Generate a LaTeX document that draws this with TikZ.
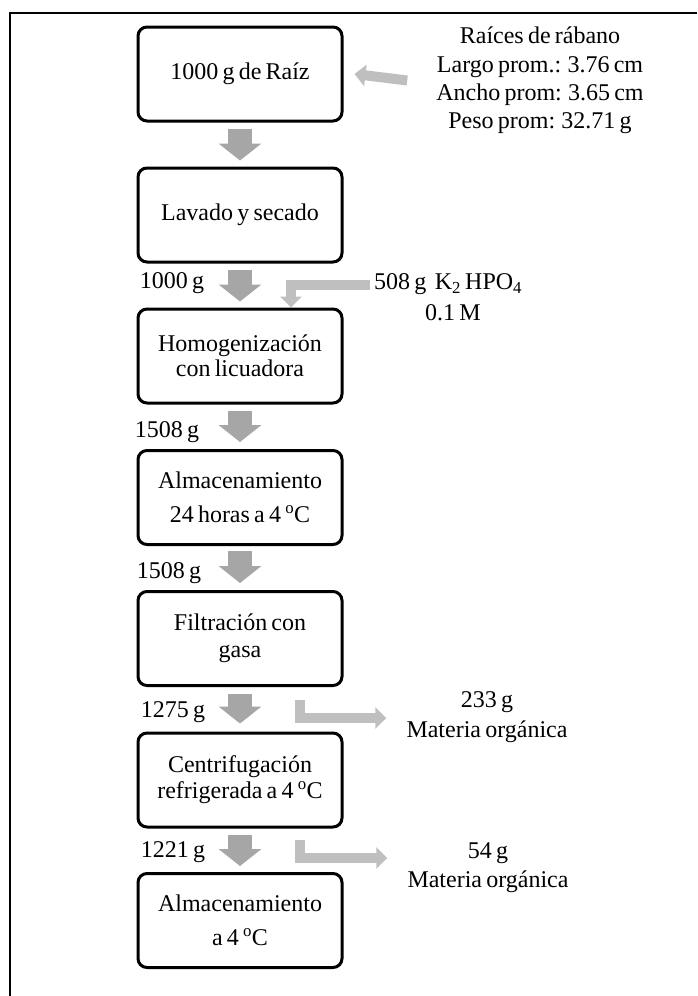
\documentclass[tikz,border=0pt]{standalone}
\usepackage{fontspec}
\setmainfont{Liberation Serif}[WordSpace=0.7]
\usetikzlibrary{arrows.meta,calc}
\definecolor{flowgray}{HTML}{A6A6A6}
\definecolor{sidegray}{HTML}{BFBFBF}
\tikzset{
  stage/.style={draw, line width=3pt, rounded corners=9pt, minimum width=204pt,
    minimum height=94pt, align=center, inner sep=2pt, font=\fontsize{24}{28}\selectfont},
  lbl/.style={inner sep=0pt, align=center, font=\fontsize{24}{28}\selectfont},
  mainflow/.style={draw=flowgray, line width=24pt, line cap=butt,
    -{Triangle[length=17pt,width=42pt]}},
  sideflow/.style={draw=sidegray, line width=10pt, line cap=butt, line join=miter,
    -{Triangle[length=11pt,width=21pt]}},
}
\begin{document}
\begin{tikzpicture}[x=1pt,y=-1pt]
\useasboundingbox (0,0) rectangle (697,996);
% frame
\draw[line width=2pt] (10,996) -- (10,13) -- (697,13);

% process stages
\node[stage] (b1) at (240,74) {1000 g de Raíz};
\node[stage] (b2) at (240,215) {Lavado y secado};
\node[stage, font=\fontsize{24}{25.5}\selectfont] (b3) at (240,356) {Homogenización\\con licuadora};
\node[stage, font=\fontsize{24}{34}\selectfont] (b4) at (240,497.5) {Almacenamiento\\24 horas a 4 \textsuperscript{o}C};
\node[stage, font=\fontsize{24}{27}\selectfont] (b5) at (240,638.5) {Filtración con\\gasa};
\node[stage, font=\fontsize{24}{26}\selectfont] (b6) at (240,780) {Centrifugación\\refrigerada a 4 \textsuperscript{o}C};
\node[stage, font=\fontsize{24}{34}\selectfont] (b7) at (240,920.5) {Almacenamiento\\a 4 \textsuperscript{o}C};

% raw material data
\node[lbl, font=\fontsize{24}{28.3}\selectfont] (r) at (540,80.5)
  {Raíces de rábano\\Largo prom.: 3.76 cm\\Ancho prom: 3.65 cm\\Peso prom: 32.71 g};

% mass labels
\node[lbl] (q2) at (172,283) {1000 g};
\node[lbl] (q3) at (167,432) {1508 g};
\node[lbl] (q4) at (169,573) {1508 g};
\node[lbl] (q5) at (173,712) {1275 g};
\node[lbl] (q6) at (173,852) {1221 g};

% buffer input
\node[lbl, anchor=west] (k1) at (374,284) {508 g\ \ K\textsubscript{2} HPO\textsubscript{4}};
\node[lbl] (k2) at (453,313) {0.1 M};

% removed material
\node[lbl, font=\fontsize{24}{30}\selectfont] (m1) at (487,717) {233 g\\Materia orgánica};
\node[lbl, font=\fontsize{24}{29}\selectfont] (m2) at (488,867.5) {54 g\\Materia orgánica};

% main flow
\draw[mainflow] ([yshift=-6pt]b1.south) -- ([yshift=6pt]b2.north);
\draw[mainflow] ([yshift=-6pt]b2.south) -- ([yshift=6pt]b3.north);
\draw[mainflow] ([yshift=-6pt]b3.south) -- ([yshift=7pt]b4.north);
\draw[mainflow] ([yshift=-5pt]b4.south) -- ([yshift=7pt]b5.north);
\draw[mainflow] ([yshift=-7pt]b5.south) -- ([yshift=8pt]b6.north);
\draw[mainflow] ([yshift=-6pt]b6.south) -- ([yshift=6pt]b7.north);

% side streams
\draw[sideflow] ([xshift=-29pt]r.west) -- ([xshift=11pt]b1.east);
\draw[sideflow] ([xshift=-4pt,yshift=-1pt]k1.west) -| ([xshift=51pt]b3.north);
\draw[sideflow] ([xshift=60pt,yshift=-13pt]b5.south) |- ([xshift=-20pt,yshift=-1pt]m1.west);
\draw[sideflow] ([xshift=60pt,yshift=-11pt]b6.south) |- ([xshift=-20pt,yshift=9.5pt]m2.west);
\end{tikzpicture}
\end{document}
